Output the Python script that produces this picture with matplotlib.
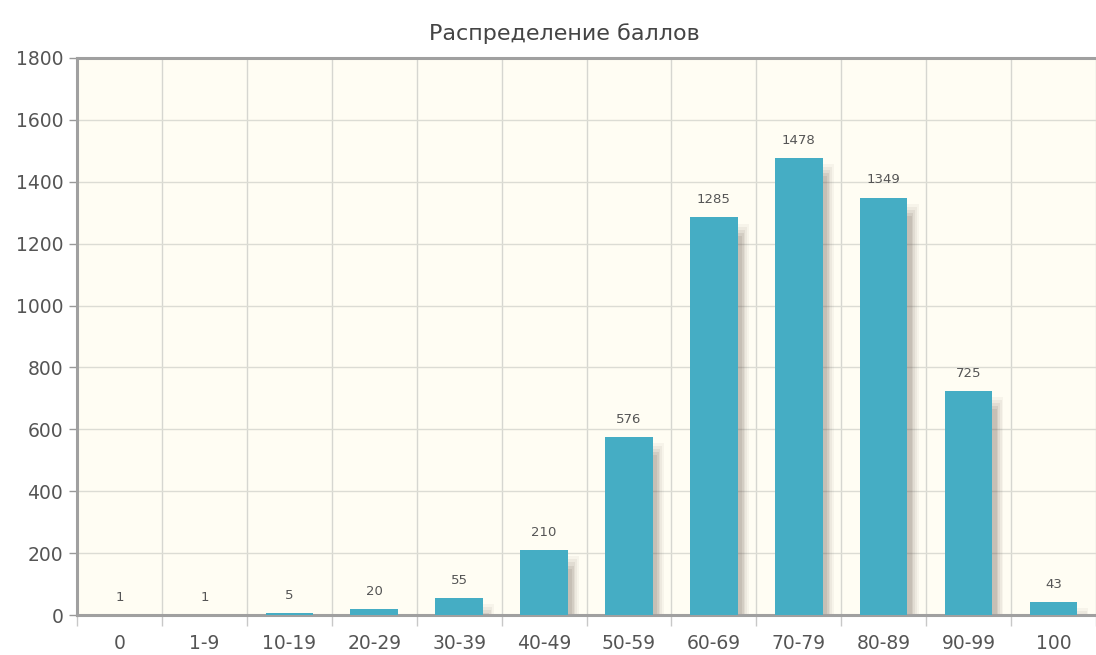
import numpy as np
import matplotlib.pyplot as plt

# Распределение баллов по интервалам
categories = ['0', '1-9', '10-19', '20-29', '30-39', '40-49', '50-59',
              '60-69', '70-79', '80-89', '90-99', '100']
counts = [1, 1, 5, 20, 55, 210, 576, 1285, 1478, 1349, 725, 43]

bar_color = '#45adc4'
text_color = '#555555'

fig = plt.figure(figsize=(10.96, 6.55), dpi=100)
ax = fig.add_axes([0.0703, 0.061, 0.9297, 0.8505])
ax.set_facecolor('#fffdf3')

x = np.arange(len(categories))
width = 0.56

# мягкая тень справа от столбцов
for i, (dx, a) in enumerate([(0.13, 0.05), (0.11, 0.07), (0.09, 0.09),
                             (0.07, 0.11), (0.05, 0.12)]):
    ax.bar(x + dx, np.array(counts) - 10 * (i + 2), width=width, color='#6a5a50',
           alpha=a, linewidth=0, zorder=2)

ax.bar(x, counts, width=width, color=bar_color, linewidth=0, zorder=3)

for xi, v in zip(x, counts):
    ax.annotate(str(v), (xi, v), xytext=(0, 8), textcoords='offset points',
                ha='center', va='bottom', fontsize=9.5, color=text_color, zorder=4)

ax.set_xlim(-0.5, len(categories) - 0.5)
ax.set_ylim(0, 1800)
ax.set_yticks(np.arange(0, 1801, 200))

ax.set_xticks(x)
ax.set_xticklabels(categories)
ax.set_xticks(np.arange(-0.5, len(categories), 1), minor=True)
ax.tick_params(axis='x', which='major', length=0, pad=14, labelsize=13.5, labelcolor=text_color)
ax.tick_params(axis='x', which='minor', length=8, width=1, color='#c8c8c8')
ax.tick_params(axis='y', length=6, width=1, color='#999999', labelsize=13.5, labelcolor=text_color, pad=4)

ax.grid(axis='y', color='#dcdcd4', linewidth=1, zorder=0)
ax.grid(axis='x', which='minor', color='#d6d6d0', linewidth=1, zorder=0)
ax.set_axisbelow(True)

for side in ['left', 'bottom', 'top']:
    ax.spines[side].set_color('#a0a0a0')
    ax.spines[side].set_linewidth(2.2)
ax.spines['right'].set_visible(False)

fig.suptitle('Распределение баллов', x=0.515, y=0.965, fontsize=16, color='#444444')

fig.savefig('out.png', dpi=100)
